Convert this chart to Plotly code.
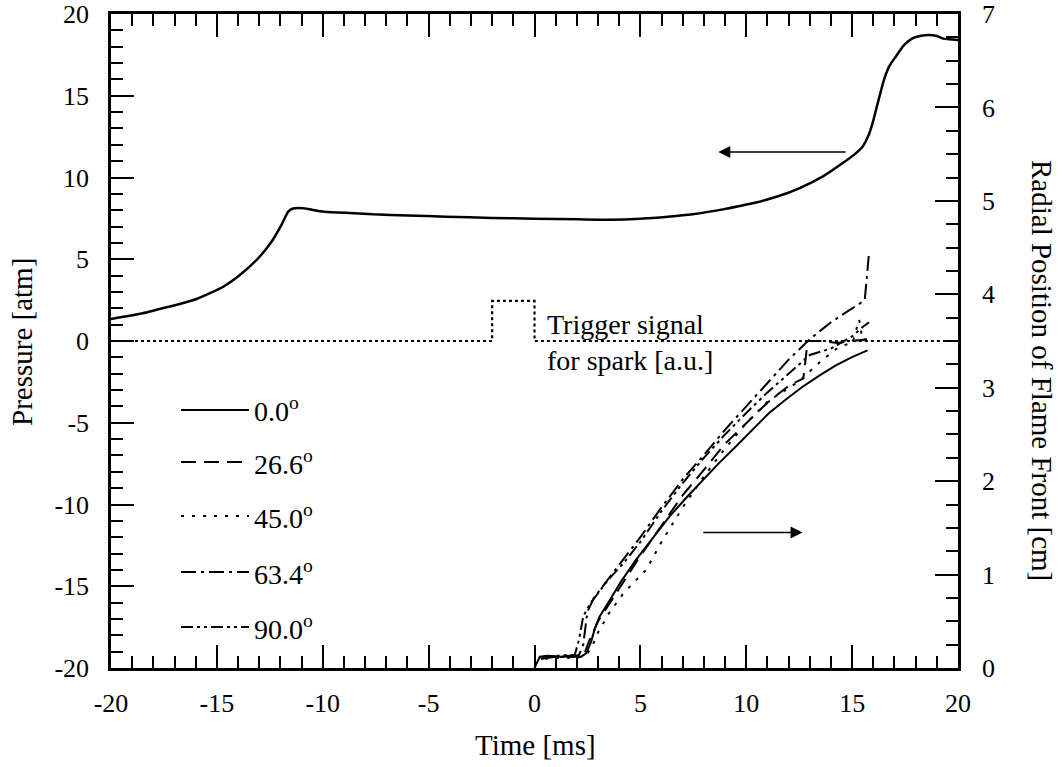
import plotly.graph_objects as go

# ---------------- data ----------------
# Pressure trace (left axis)
t_pressure = [-20, -18.5, -17.7, -16.8, -15.96, -14.7, -13.9, -13.05, -12.42, -11.95, -11.63,
              -11.4, -10.9, -10.4, -9.9, -8.5, -7.63, -6, -4.17, -2, 0, 2.12, 3.54, 5, 6.3,
              7.47, 8.9, 10.3, 11.5, 12.5, 13.6, 14.54, 15.1, 15.49, 15.75, 15.96, 16.2, 16.5,
              16.75, 17.06, 17.45, 17.85, 18.2, 18.63, 19.0, 19.26, 19.6, 20]
pressure = [1.35, 1.7, 1.96, 2.25, 2.57, 3.32, 4.05, 5.06, 6.07, 7.1, 7.91,
            8.1, 8.12, 8.0, 7.91, 7.82, 7.75, 7.68, 7.6, 7.53, 7.48, 7.44, 7.42, 7.48, 7.6,
            7.75, 8.05, 8.42, 8.85, 9.34, 10.05, 10.87, 11.4, 11.88, 12.5, 13.3, 14.5, 15.96,
            16.8, 17.39, 18.1, 18.51, 18.65, 18.72, 18.65, 18.51, 18.45, 18.41]

# Trigger signal for spark (left axis, arbitrary units)
t_trigger = [-20, -2, -2, 0, 0, 20]
trigger = [0, 0, 2.45, 2.45, 0, 0]

# Radial position of flame front (right axis) for each angle
angles = ["0.0", "26.6", "45.0", "63.4", "90.0"]
t_flame = {
    "0.0": [0, 0.25, 0.6, 1.2, 1.8, 2.2, 2.45, 2.67, 2.85, 3.07, 3.46, 4.1, 4.8, 5.6, 6.37,
            7.2, 7.94, 8.7, 9.51, 10.3, 11.08, 11.9, 12.66, 13.45, 14.23, 15.02, 15.73],
    "26.6": [0.3, 0.6, 1.2, 2.0, 2.35, 2.6, 3.0, 3.5, 4.2, 5, 6, 7, 8, 9, 10, 11, 12, 12.7,
             12.9, 13.5, 14.3, 15.0, 15.6, 15.8],
    "45.0": [0.5, 1.2, 2.0, 2.4, 2.7, 3.0, 3.5, 4.2, 5.27, 6, 7, 8, 9, 10, 11, 12, 12.5, 13.5,
             14.39, 15.02, 15.33, 15.5, 15.7],
    "63.4": [0.3, 1.0, 1.8, 2.1, 2.3, 2.5, 2.8, 3.3, 4, 5, 6, 7, 8, 9, 10, 11, 12, 13, 14,
             14.8, 15.49, 15.6, 15.75, 15.8],
    "90.0": [0.3, 1.0, 1.9, 2.1, 2.3, 2.6, 3.0, 3.5, 4.2, 5, 6, 7, 8, 9, 10, 11, 12, 13, 14,
             15, 15.5, 15.8],
}
r_flame = {
    "0.0": [0, 0.12, 0.13, 0.12, 0.12, 0.12, 0.16, 0.28, 0.42, 0.55, 0.69, 0.93, 1.16, 1.40,
            1.62, 1.83, 2.01, 2.19, 2.37, 2.55, 2.73, 2.88, 3.01, 3.13, 3.24, 3.33, 3.40],
    "26.6": [0.1, 0.12, 0.13, 0.13, 0.15, 0.3, 0.5, 0.68, 0.92, 1.2, 1.52, 1.85, 2.12, 2.4,
             2.62, 2.84, 3.02, 3.1, 3.5, 3.5, 3.48, 3.5, 3.52, 3.52],
    "45.0": [0.1, 0.11, 0.11, 0.13, 0.22, 0.38, 0.58, 0.8, 1.05, 1.35, 1.72, 2.05, 2.35,
             2.62, 2.85, 3.0, 3.07, 3.28, 3.44, 3.48, 3.73, 3.5, 3.53],
    "63.4": [0.1, 0.12, 0.12, 0.14, 0.25, 0.6, 0.75, 0.9, 1.1, 1.4, 1.72, 2.02, 2.28, 2.55,
             2.8, 3.05, 3.3, 3.52, 3.7, 3.82, 3.92, 3.95, 4.4, 4.45],
    "90.0": [0.1, 0.13, 0.14, 0.3, 0.55, 0.68, 0.8, 0.95, 1.12, 1.35, 1.68, 1.98, 2.25, 2.5,
             2.73, 2.95, 3.15, 3.35, 3.42, 3.55, 3.65, 3.7],
}

x_ticks = [-20, -15, -10, -5, 0, 5, 10, 15, 20]
y_ticks = [-20, -15, -10, -5, 0, 5, 10, 15, 20]
y2_ticks = [0, 1, 2, 3, 4, 5, 6, 7]

# ---------------- styling ----------------
FONT = "Liberation Serif"
TICK_SIZE = 26
TITLE_SIZE = 29
dash_styles = {
    "0.0": "solid",
    "26.6": "15px,8px",
    "45.0": "3px,8px",
    "63.4": "15px,5px,3px,5px",
    "90.0": "12px,4px,3px,4px,3px,4px",
}

fig = go.Figure()

fig.add_trace(go.Scatter(x=t_pressure, y=pressure, mode="lines",
                         line=dict(color="black", width=2.5, shape="spline", smoothing=0.5),
                         showlegend=False, xaxis="x", yaxis="y"))
fig.add_trace(go.Scatter(x=t_trigger, y=trigger, mode="lines",
                         line=dict(color="black", width=2.2, dash="3px,3px"),
                         showlegend=False, xaxis="x", yaxis="y"))

for a in angles:
    fig.add_trace(go.Scatter(x=t_flame[a], y=r_flame[a], mode="lines",
                             line=dict(color="black", width=2, dash=dash_styles[a]),
                             showlegend=False, xaxis="x2", yaxis="y2"))

# ---------------- axes ----------------
PL, PR, PT, PB = 111, 958, 14, 668
W, H = 1062, 767

common_x = dict(range=[-20, 20], tickmode="array", tickvals=x_ticks,
                ticktext=[str(v) for v in x_ticks],
                ticks="inside", ticklen=23, tickwidth=2, tickcolor="black",
                minor=dict(dtick=1, tick0=-20, ticks="inside", ticklen=12,
                           tickwidth=2, tickcolor="black"),
                showline=True, linewidth=2.5, linecolor="black",
                showgrid=False, zeroline=False, ticklabeloverflow="allow",
                automargin=False)

fig.update_layout(
    width=W, height=H,
    margin=dict(l=PL, r=W - PR, t=PT, b=H - PB, autoexpand=False),
    paper_bgcolor="white", plot_bgcolor="white",
    font=dict(family=FONT, size=TICK_SIZE, color="black"),
    showlegend=False,
    xaxis=dict(**common_x, tickfont=dict(family=FONT, size=TICK_SIZE), ticklabelstandoff=10),
    xaxis2=dict(**common_x, overlaying="x", side="top", anchor="y2",
                showticklabels=False, matches="x"),
    yaxis=dict(range=[-20, 20], tickmode="array", tickvals=y_ticks,
               ticktext=[str(v) for v in y_ticks],
               ticks="inside", ticklen=23, tickwidth=2, tickcolor="black",
               minor=dict(dtick=1, tick0=-20, ticks="inside", ticklen=12,
                          tickwidth=2, tickcolor="black"),
               showline=True, linewidth=2.5, linecolor="black",
               showgrid=False, zeroline=False, ticklabeloverflow="allow", automargin=False,
               tickfont=dict(family=FONT, size=TICK_SIZE), ticklabelstandoff=14),
    yaxis2=dict(range=[0, 7], tickmode="array", tickvals=y2_ticks,
                ticktext=[str(v) for v in y2_ticks],
                overlaying="y", side="right", anchor="x2",
                ticks="inside", ticklen=23, tickwidth=2, tickcolor="black",
                minor=dict(dtick=0.25, tick0=0, ticks="inside", ticklen=12,
                           tickwidth=2, tickcolor="black"),
                showline=True, linewidth=2.5, linecolor="black",
                showgrid=False, zeroline=False, ticklabeloverflow="allow", automargin=False,
                tickfont=dict(family=FONT, size=TICK_SIZE), ticklabelstandoff=16),
)

# ---------------- titles ----------------
def px_x(p):
    return (p - PL) / (PR - PL)

def px_y(p):
    return (PB - p) / (PB - PT)

ann = []
ann.append(dict(text="Time [ms]", xref="paper", yref="paper", x=px_x(535), y=px_y(745),
                showarrow=False, font=dict(family=FONT, size=TITLE_SIZE),
                xanchor="center", yanchor="middle"))
ann.append(dict(text="Pressure [atm]", xref="paper", yref="paper", x=px_x(22), y=px_y(342),
                showarrow=False, textangle=-90, font=dict(family=FONT, size=TITLE_SIZE),
                xanchor="center", yanchor="middle"))
ann.append(dict(text="Radial Position of Flame Front [cm]", xref="paper", yref="paper",
                x=px_x(1042), y=px_y(370), showarrow=False, textangle=90,
                font=dict(family=FONT, size=TITLE_SIZE), xanchor="center", yanchor="middle"))

# trigger annotation
ann.append(dict(text="Trigger signal<br>for spark [a.u.]", xref="x", yref="y", x=0.5, y=-0.1,
                showarrow=False, align="left", xanchor="left", yanchor="middle",
                font=dict(family=FONT, size=28)))

# arrows
ann.append(dict(x=8.68, y=11.56, ax=14.76, ay=11.56, xref="x", yref="y", axref="x", ayref="y",
                showarrow=True, arrowhead=2, arrowsize=1.6, arrowwidth=1.5, arrowcolor="black", text=""))
ann.append(dict(x=12.66, y=1.45, ax=7.9, ay=1.45, xref="x2", yref="y2", axref="x2", ayref="y2",
                showarrow=True, arrowhead=2, arrowsize=1.6, arrowwidth=1.5, arrowcolor="black", text=""))

# legend (drawn manually)
leg_y = [410, 462, 516, 572, 627]
shapes = []
for a, yy in zip(angles, leg_y):
    shapes.append(dict(type="line", xref="paper", yref="paper", x0=px_x(181), x1=px_x(249),
                       y0=px_y(yy), y1=px_y(yy),
                       line=dict(color="black", width=2.2, dash=dash_styles[a])))
    ann.append(dict(text=a + "<sup>o</sup>", xref="paper", yref="paper", x=px_x(252), y=px_y(yy),
                    showarrow=False, xanchor="left", yanchor="middle",
                    font=dict(family=FONT, size=28)))

fig.update_layout(annotations=ann, shapes=shapes)

fig.write_html("out.html")
